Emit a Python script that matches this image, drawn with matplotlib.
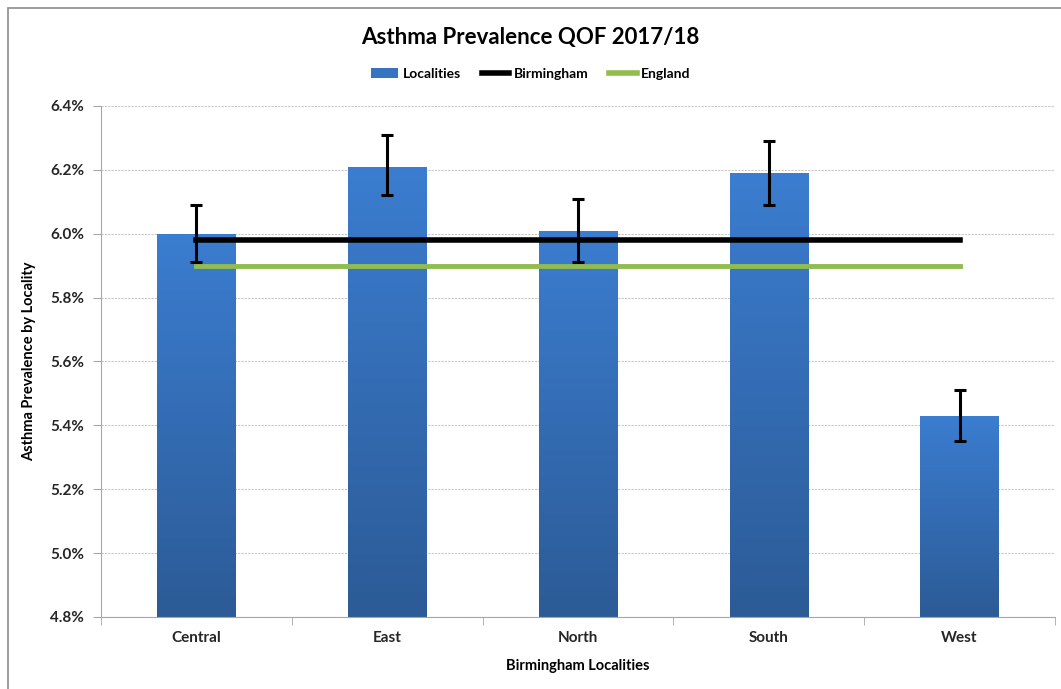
import numpy as np
import matplotlib
matplotlib.use('Agg')
import matplotlib.pyplot as plt
from matplotlib.patches import Rectangle
from matplotlib.lines import Line2D
from matplotlib.patches import Patch
from matplotlib.ticker import FuncFormatter, FixedLocator

# --- data ---
localities = ['Central', 'East', 'North', 'South', 'West']
prevalence = [6.00, 6.21, 6.01, 6.19, 5.43]
ci_lower = [5.91, 6.12, 5.91, 6.09, 5.35]
ci_upper = [6.09, 6.31, 6.11, 6.29, 5.51]
birmingham = 5.98
england = 5.90

plt.rcParams['font.family'] = ['Lato', 'DejaVu Sans']

fig = plt.figure(figsize=(10.61, 6.89), dpi=100)
ax = fig.add_axes([0.0952, 0.1045, 0.8991, 0.7417])

x = np.arange(len(localities))
width = 0.41
bars = ax.bar(x, prevalence, width=width, bottom=0, color='#3673c0', zorder=2)

# vertical gradient in each bar (lighter at top, darker at bottom)
grad = np.linspace(0, 1, 256).reshape(-1, 1)
cmap = matplotlib.colors.LinearSegmentedColormap.from_list('bar', ['#2c5b96', '#3b7dd0'])
for b in bars:
    bx, bw, bh = b.get_x(), b.get_width(), b.get_height()
    im = ax.imshow(grad, cmap=cmap, aspect='auto', origin='lower',
                   extent=(bx, bx + bw, 4.8, bh), zorder=2.1)
    im.set_clip_path(b)
    b.set_facecolor('none')

yerr = [np.array(prevalence) - np.array(ci_lower), np.array(ci_upper) - np.array(prevalence)]
ax.errorbar(x, prevalence, yerr=yerr, fmt='none', ecolor='black', elinewidth=2.2,
            capsize=4, capthick=2.2, zorder=5)

ax.plot([x[0], x[-1]], [birmingham, birmingham], color='black', lw=4, zorder=4)
ax.plot([x[0], x[-1]], [england, england], color='#92bb50', lw=3.5, zorder=3)

ax.set_xlim(-0.5, len(localities) - 0.5)
ax.set_ylim(4.8, 6.4)
ax.set_yticks(np.arange(4.8, 6.41, 0.2))
ax.yaxis.set_major_formatter(FuncFormatter(lambda v, p: f'{v:.1f}%'))
ax.set_xticks(x)
ax.set_xticklabels(localities)
ax.xaxis.set_minor_locator(FixedLocator(np.arange(-0.5, len(localities), 1)))
ax.tick_params(axis='x', which='major', length=0, pad=10)
ax.tick_params(axis='x', which='minor', length=6, color='#a6a6a6')
ax.tick_params(axis='y', length=6, color='#a6a6a6', pad=6)
for lab in ax.get_xticklabels() + ax.get_yticklabels():
    lab.set_fontweight('bold')
    lab.set_fontsize(11)
    lab.set_color('#262626')

ax.grid(axis='y', linestyle=(0, (2, 1)), color='#c8c8c8', lw=0.8, zorder=0)
ax.set_axisbelow(True)
for s in ['top', 'right']:
    ax.spines[s].set_visible(False)
for s in ['left', 'bottom']:
    ax.spines[s].set_color('#a6a6a6')

ax.set_xlabel('Birmingham Localities', fontsize=10.5, fontweight='bold', labelpad=10)
ax.set_ylabel('Asthma Prevalence by Locality', fontsize=10.5, fontweight='bold', labelpad=10)

fig.text(0.5, 0.946, 'Asthma Prevalence QOF 2017/18', ha='center', va='center',
         fontsize=16, fontweight='bold')

handles = [Patch(facecolor='#3673c0', label='Localities'),
           Line2D([0], [0], color='black', lw=4, label='Birmingham'),
           Line2D([0], [0], color='#92bb50', lw=4, label='England')]
leg = fig.legend(handles=handles, loc='center', bbox_to_anchor=(0.5, 0.893), ncol=3,
                 frameon=False, prop={'weight': 'bold', 'size': 10}, handlelength=2.0,
                 handletextpad=0.3, columnspacing=1.5)

# outer chart border (only left and top edges fall inside the picture)
fig.patches.append(Rectangle((0.008, -0.2), 1.2, 1.188, transform=fig.transFigure,
                             fill=False, edgecolor='#8c8c8c', lw=1.2))

fig.savefig('out.png', dpi=100)
